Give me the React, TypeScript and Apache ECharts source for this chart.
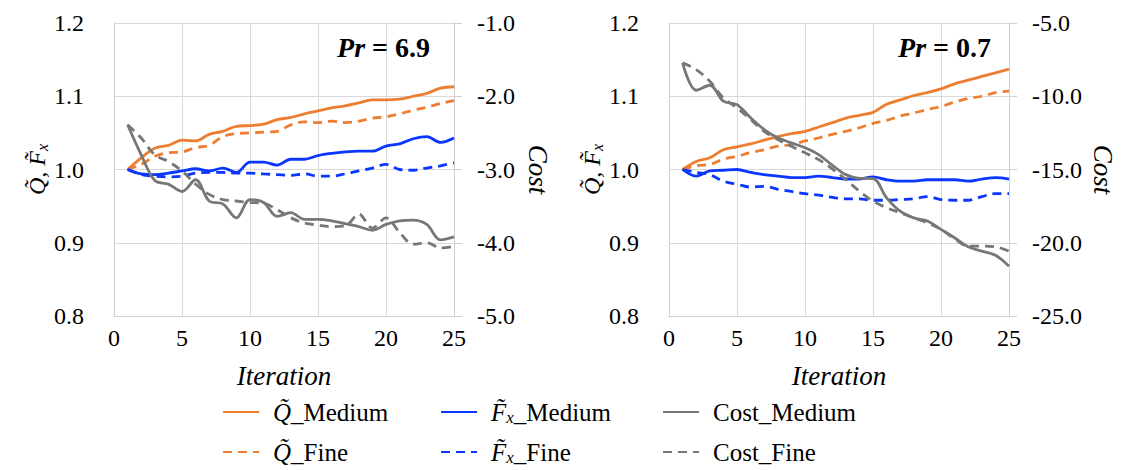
import React, { useEffect, useRef } from "react";
import * as echarts from "echarts";

const iterations = [1, 2, 3, 4, 5, 6, 7, 8, 9, 10, 11, 12, 13, 14, 15, 16, 17, 18, 19, 20, 21, 22, 23, 24, 25];

// Pr = 6.9 panel
const qMedium69 = [1.000, 1.016, 1.029, 1.033, 1.040, 1.039, 1.048, 1.052, 1.059, 1.060, 1.062, 1.068, 1.071, 1.076, 1.080, 1.084, 1.087, 1.091, 1.095, 1.095, 1.096, 1.100, 1.104, 1.111, 1.113];
const qFine69 = [1.000, 1.007, 1.018, 1.023, 1.024, 1.030, 1.033, 1.045, 1.049, 1.050, 1.051, 1.052, 1.061, 1.065, 1.064, 1.066, 1.064, 1.066, 1.070, 1.072, 1.076, 1.081, 1.085, 1.090, 1.094];
const fMedium69 = [1.000, 0.994, 0.993, 0.995, 0.998, 1.001, 0.998, 1.002, 0.996, 1.010, 1.010, 1.006, 1.014, 1.014, 1.019, 1.022, 1.024, 1.025, 1.025, 1.032, 1.035, 1.042, 1.045, 1.037, 1.043];
const fFine69 = [1.000, 0.993, 0.991, 0.990, 0.991, 0.995, 0.996, 0.996, 0.995, 0.995, 0.994, 0.993, 0.992, 0.994, 0.991, 0.991, 0.994, 0.998, 1.002, 1.007, 1.000, 0.999, 1.002, 1.005, 1.009];
const costMedium69 = [-2.39, -2.80, -3.15, -3.20, -3.30, -3.14, -3.43, -3.47, -3.66, -3.41, -3.45, -3.64, -3.59, -3.68, -3.68, -3.70, -3.74, -3.78, -3.83, -3.75, -3.70, -3.69, -3.75, -3.96, -3.92];
const costFine69 = [-2.39, -2.57, -2.80, -2.89, -3.02, -3.20, -3.34, -3.41, -3.43, -3.45, -3.46, -3.55, -3.66, -3.73, -3.76, -3.78, -3.77, -3.61, -3.80, -3.66, -3.86, -4.02, -4.00, -4.07, -4.05];

// Pr = 0.7 panel
const qMedium07 = [1.000, 1.011, 1.016, 1.027, 1.031, 1.035, 1.040, 1.045, 1.049, 1.052, 1.058, 1.064, 1.070, 1.074, 1.078, 1.089, 1.095, 1.101, 1.105, 1.110, 1.117, 1.122, 1.127, 1.132, 1.137];
const qFine07 = [1.000, 1.005, 1.007, 1.014, 1.018, 1.023, 1.027, 1.032, 1.034, 1.039, 1.043, 1.048, 1.052, 1.057, 1.063, 1.067, 1.073, 1.077, 1.082, 1.086, 1.092, 1.097, 1.100, 1.105, 1.107];
const fMedium07 = [1.000, 0.991, 0.998, 0.999, 1.000, 0.996, 0.993, 0.991, 0.989, 0.989, 0.991, 0.989, 0.987, 0.987, 0.990, 0.986, 0.984, 0.984, 0.986, 0.986, 0.986, 0.984, 0.987, 0.989, 0.987];
const fFine07 = [1.000, 0.996, 0.993, 0.984, 0.980, 0.976, 0.977, 0.973, 0.970, 0.967, 0.965, 0.962, 0.960, 0.960, 0.958, 0.958, 0.959, 0.960, 0.963, 0.959, 0.958, 0.958, 0.963, 0.967, 0.967];
const costMedium07 = [-7.72, -9.59, -9.25, -10.34, -10.57, -11.47, -12.27, -12.84, -13.18, -13.52, -13.98, -14.70, -15.35, -15.60, -15.62, -16.93, -17.84, -18.30, -18.52, -19.09, -19.66, -20.27, -20.57, -20.86, -21.60];
const costFine07 = [-7.72, -8.18, -8.98, -10.11, -10.79, -11.59, -12.39, -12.95, -13.41, -13.86, -14.32, -14.95, -15.68, -16.48, -17.16, -17.61, -17.95, -18.30, -18.64, -19.09, -19.73, -20.23, -20.23, -20.27, -20.57];

const panelTitles = ["6.9", "0.7"];
const leftAxisRange = [0.8, 1.2, 0.1];
const costRanges = [
  [-5, -1, 1],
  [-25, -5, 5],
];

const ORANGE = "#ED7D31";
const BLUE = "#0A36FF";
const GRAY = "#777777";
const FONT = "Liberation Serif";
const AXIS_GRAY = "#CFCFCF";
const GRID_GRAY = "#D9D9D9";

const legendLabels: Record<string, string> = {
  Q_Medium: "{i|Q\u0303}{t|_Medium}",
  Q_Fine: "{i|Q\u0303}{t|_Fine}",
  F_Medium: "{i|F\u0303}{s|x}{t|_Medium}",
  F_Fine: "{i|F\u0303}{s|x}{t|_Fine}",
  Cost_Medium: "{t|Cost_Medium}",
  Cost_Fine: "{t|Cost_Fine}",
};

const pairs = (vals: number[]) => iterations.map((x, i) => [x, vals[i]]);

export default function App() {
  const ref = useRef<HTMLDivElement>(null);
  useEffect(() => {
    if (!ref.current) return;
    const chart = echarts.init(ref.current, null, { renderer: "svg" });

    const grids = [
      { left: 114, top: 23, width: 340, height: 293 },
      { left: 669, top: 23, width: 340, height: 293 },
    ];

    const richName = {
      i: { fontFamily: FONT, fontStyle: "italic", fontSize: 24, color: "#000" },
      s: { fontFamily: FONT, fontStyle: "italic", fontSize: 16, color: "#000", verticalAlign: "bottom", padding: [10, 0, 0, 0] },
    };

    const xAxes = grids.map((_, gi) => ({
      gridIndex: gi,
      type: "value",
      min: 0,
      max: 25,
      interval: 5,
      axisLine: { show: true, onZero: false, lineStyle: { color: AXIS_GRAY, width: 1 } },
      axisTick: { show: false },
      splitLine: { show: true, lineStyle: { color: GRID_GRAY, width: 1 } },
      axisLabel: { fontFamily: FONT, fontSize: 24, color: "#000", margin: 10 },
      name: "Iteration",
      nameLocation: "middle",
      nameGap: 46,
      nameTextStyle: { fontFamily: FONT, fontStyle: "italic", fontSize: 27, color: "#000" },
    }));

    const yAxes: any[] = [];
    grids.forEach((_, gi) => {
      yAxes.push({
        gridIndex: gi,
        type: "value",
        position: "left",
        min: leftAxisRange[0],
        max: leftAxisRange[1],
        interval: leftAxisRange[2],
        axisLine: { show: true, lineStyle: { color: AXIS_GRAY, width: 1 } },
        axisTick: { show: false },
        splitLine: { show: true, lineStyle: { color: GRID_GRAY, width: 1 } },
        axisLabel: {
          fontFamily: FONT,
          fontSize: 24,
          color: "#000",
          margin: 30,
          formatter: (v: number) => v.toFixed(1),
        },
        name: "{i|Q\u0303, F\u0303}{s|x}",
        nameLocation: "middle",
        nameGap: gi === 0 ? 59 : 64,
        nameTextStyle: { fontFamily: FONT, rich: richName },
      });
      const cr = costRanges[gi];
      yAxes.push({
        gridIndex: gi,
        type: "value",
        position: "right",
        min: cr[0],
        max: cr[1],
        interval: cr[2],
        axisLine: { show: true, lineStyle: { color: AXIS_GRAY, width: 1 } },
        axisTick: { show: true, length: 8, lineStyle: { color: AXIS_GRAY } },
        splitLine: { show: false },
        axisLabel: {
          fontFamily: FONT,
          fontSize: 24,
          color: "#000",
          margin: 23,
          formatter: (v: number) => v.toFixed(1),
        },
        name: "Cost",
        nameLocation: "middle",
        nameRotate: -90,
        nameGap: gi === 0 ? 70 : 80,
        nameTextStyle: { fontFamily: FONT, fontStyle: "italic", fontSize: 27, color: "#000" },
      });
    });

    const panels = [
      { q: [qMedium69, qFine69], f: [fMedium69, fFine69], c: [costMedium69, costFine69] },
      { q: [qMedium07, qFine07], f: [fMedium07, fFine07], c: [costMedium07, costFine07] },
    ];

    const dash = [9, 6];
    const series: any[] = [];
    panels.forEach((p, gi) => {
      const mk = (name: string, vals: number[], color: string, dashed: boolean, yIdx: number) => ({
        name,
        type: "line",
        xAxisIndex: gi,
        yAxisIndex: yIdx,
        data: pairs(vals),
        smooth: 0.35,
        symbol: "none",
        showSymbol: false,
        itemStyle: { color },
        lineStyle: { color, width: 2.8, type: dashed ? dash : "solid" },
        z: 3,
      });
      series.push(mk("Q_Medium", p.q[0], ORANGE, false, gi * 2));
      series.push(mk("Q_Fine", p.q[1], ORANGE, true, gi * 2));
      series.push(mk("F_Medium", p.f[0], BLUE, false, gi * 2));
      series.push(mk("F_Fine", p.f[1], BLUE, true, gi * 2));
      series.push(mk("Cost_Medium", p.c[0], GRAY, false, gi * 2 + 1));
      series.push(mk("Cost_Fine", p.c[1], GRAY, true, gi * 2 + 1));
    });

    const legendRich = {
      i: { fontFamily: FONT, fontStyle: "italic", fontSize: 25, color: "#000", lineHeight: 30 },
      s: { fontFamily: FONT, fontStyle: "italic", fontSize: 17, color: "#000", lineHeight: 30, padding: [10, 0, 0, 0] },
      t: { fontFamily: FONT, fontSize: 25, color: "#000", lineHeight: 30 },
    };
    const legendItems = [
      { name: "Q_Medium", left: 222, top: 397 },
      { name: "Q_Fine", left: 222, top: 437 },
      { name: "F_Medium", left: 440, top: 397 },
      { name: "F_Fine", left: 440, top: 437 },
      { name: "Cost_Medium", left: 662, top: 397 },
      { name: "Cost_Fine", left: 662, top: 437 },
    ];
    const legends = legendItems.map((c) => ({
      left: c.left,
      top: c.top,
      orient: "horizontal",
      padding: 0,
      itemWidth: 36,
      itemHeight: 14,
      selectedMode: false,
      data: [c.name],
      itemStyle: { opacity: 0 },
      formatter: (n: string) => legendLabels[n],
      textStyle: { fontFamily: FONT, fontSize: 25, color: "#000", lineHeight: 30, padding: [0, 0, 0, 9], rich: legendRich },
    }));

    const graphic = grids.map((g, gi) => ({
      type: "text",
      right: gi === 0 ? 1121 - 430 : 1121 - 991,
      top: 33,
      style: {
        text: `{a|Pr}{b| = ${panelTitles[gi]}}`,
        rich: {
          a: { fontFamily: FONT, fontStyle: "italic", fontWeight: "bold", fontSize: 28, fill: "#000" },
          b: { fontFamily: FONT, fontWeight: "bold", fontSize: 28, fill: "#000" },
        },
      },
      z: 10,
    }));

    chart.setOption({
      animation: false,
      backgroundColor: "#fff",
      textStyle: { fontFamily: FONT },
      grid: grids,
      xAxis: xAxes,
      yAxis: yAxes,
      legend: legends,
      series,
      graphic,
    });
    return () => chart.dispose();
  }, []);

  return <div ref={ref} style={{ position: "fixed", left: 0, top: 0, width: 1121, height: 470 }} />;
}
